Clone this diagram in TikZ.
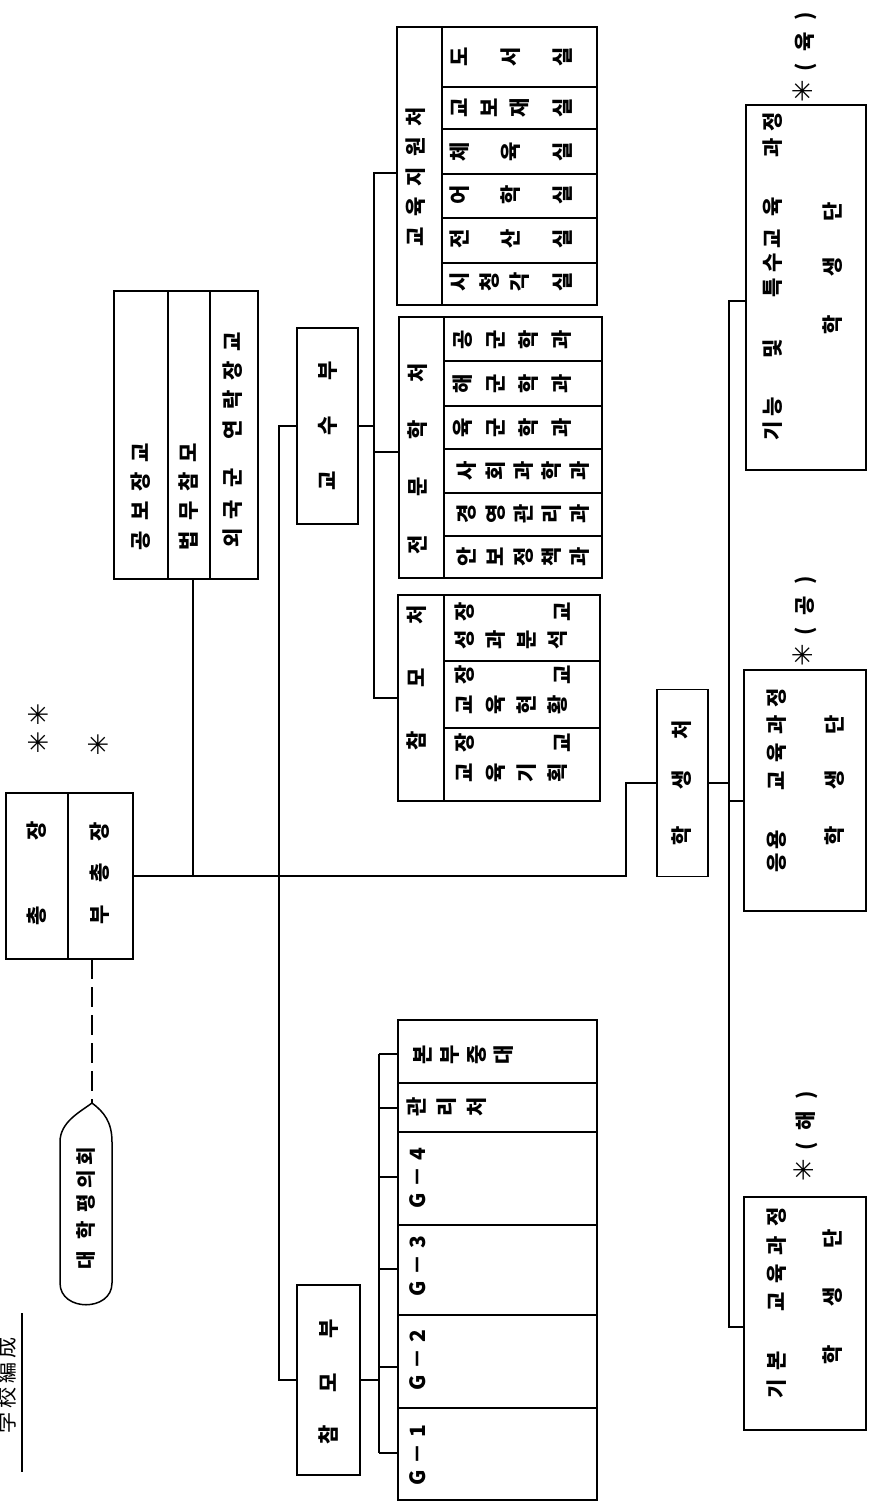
\documentclass[tikz,border=0pt]{standalone}
\usepackage{fontspec}
\usepackage{graphicx}
\newfontfamily\kr{Noto Sans CJK KR}
\newfontfamily\jpf{Noto Sans CJK JP}
\newfontfamily\dv{DejaVu Sans}
\newcommand\hs[1]{\hspace{#1pt}}
\newcommand\st{\rule[-0.12em]{0pt}{1em}}
\newcommand\G[1]{\rotatebox{90}{\st#1}}
\newcommand\AST{{\dv\bfseries\fontsize{27}{27}\selectfont ✳}}
\begin{document}
\begin{tikzpicture}[x=1pt,y=-1pt,
  box/.style={draw, rectangle, line width=1.5pt, inner sep=0pt, outer sep=0pt},
  wire/.style={line width=1.3pt},
  cell/.style={line width=1.3pt},
  vt/.style={rotate=90, inner sep=0pt, font=\kr\bfseries\fontsize{21}{21}\selectfont},
  ht/.style={inner sep=0pt, font=\kr\bfseries\fontsize{21}{21}\selectfont},
  astk/.style={inner sep=0pt, font=\dv\bfseries\fontsize{27}{27}\selectfont}]
\useasboundingbox (0,0) rectangle (868,1506);

% ---------- boxes ----------
\node[box, minimum width=127pt, minimum height=166pt] (chong) at (69.5,876) {};
\node[box, minimum width=144pt, minimum height=288pt] (bojik) at (186,435) {};
\node[box, minimum width=61pt, minimum height=196pt] (gsb) at (327.5,426) {};
\node[box, minimum width=63pt, minimum height=190pt] (cmb) at (328.5,1380) {};
\node[box, minimum width=200pt, minimum height=278pt] (gjw) at (497,166) {};
\node[box, minimum width=203pt, minimum height=261pt] (jmh) at (500.5,447.5) {};
\node[box, minimum width=202pt, minimum height=206pt] (cmc) at (499,698) {};
\node[box, minimum width=199pt, minimum height=480pt] (gblk) at (497.5,1260) {};
\node[box, minimum width=51pt, minimum height=187pt] (hsc) at (682.5,783) {};
\node[box, minimum width=120pt, minimum height=365pt] (kn) at (806,287.5) {};
\node[box, minimum width=122pt, minimum height=241pt] (uy) at (805,790.5) {};
\node[box, minimum width=122pt, minimum height=233pt] (gb) at (805,1313.5) {};

% ---------- inner dividers ----------
\draw[cell] (68,793) -- (68,959);
\draw[cell] (168,291) -- (168,579);
\draw[cell] (210,291) -- (210,579);
\draw[cell] (442,27) -- (442,305);
\foreach \yy in {87,129,174,218,263} \draw[cell] (442,\yy) -- (597,\yy);
\draw[cell] (444,317) -- (444,578);
\foreach \yy in {361,406,449,493,536} \draw[cell] (444,\yy) -- (602,\yy);
\draw[cell] (444,595) -- (444,801);
\foreach \yy in {661,728} \draw[cell] (444,\yy) -- (600,\yy);
\foreach \yy in {1083,1132,1225,1315,1408} \draw[cell] (398,\yy) -- (597,\yy);

% ---------- senate shape ----------
\coordinate (senTop) at (92,1103);
\draw[line width=1.5pt] (senTop) .. controls (104,1112) and (112,1122) .. (112,1142) -- (112,1283)
  .. controls (112,1312) and (60,1312) .. (60,1283) -- (60,1142)
  .. controls (60,1122) and (80,1112) .. (senTop);
\draw[wire, dash pattern=on 20pt off 8pt] (chong.south -| senTop) -- (senTop);

% ---------- connectors ----------
\coordinate (p1) at (626,876);
\coordinate (j1) at (193,876);
\coordinate (j2) at (279,876);
\draw[wire] (chong.east) -- (p1) |- (hsc.west);
\draw[wire] (bojik.south -| j1) -- (j1);
\draw[wire] (gsb.west) -| (j2) |- (cmb.west);

\coordinate (k) at (374,426);
\coordinate (r1) at (374,173);
\coordinate (r2) at (374,452);
\draw[wire] (gsb.east) -- (k);
\draw[wire] (r1 -| gjw.west) -- (r1) |- (cmc.west);
\draw[wire] (r2) -- (r2 -| jmh.west);

\coordinate (bx) at (379,1380);
\draw[wire] (cmb.east) -- (bx);
\coordinate (g1) at (379,1054);
\coordinate (g2) at (379,1108);
\coordinate (g3) at (379,1177);
\coordinate (g4) at (379,1269);
\coordinate (g5) at (379,1367);
\coordinate (g6) at (379,1453);
\draw[wire] (g1) -- (g6);
\foreach \g in {g1,g2,g3,g4,g5,g6} \draw[wire] (\g) -- (\g -| gblk.west);

\coordinate (q1) at (729,301);
\coordinate (q2) at (729,801);
\coordinate (q3) at (729,1327);
\draw[wire] (hsc.east) -- (hsc.east -| q1);
\draw[wire] (q1 -| kn.west) -- (q1) -- (q3) -- (q3 -| gb.west);
\draw[wire] (q2) -- (q2 -| uy.west);

% ---------- title ----------
\node[vt, font=\jpf\fontsize{21}{21}\selectfont] (title) at (7,1385) {\st 学\hs{4}校\hs{4}編\hs{4}成};
\draw[wire] (22,1313) -- (22,1472);

% ---------- texts ----------
\node[vt] (tc1) at (37,873.5) {\st 총\hs{66}장};
\node[vt] (tc2) at (100,873.5) {\st 부\hs{23}총\hs{22}장};
\node[astk] (as1) at (38,715) {✳};
\node[astk] (as2) at (38,743) {✳};
\node[astk] (as3) at (98,745) {✳};

\node[vt] (tb1) at (141,496.5) {\st 공\hs{10}보\hs{10}장\hs{10}교};
\node[vt] (tb2) at (189,496.5) {\st 법\hs{10}무\hs{10}참\hs{10}모};
\node[vt] (tb3) at (233,440) {\st 외\hs{9}국\hs{12}군\hs{29}연\hs{11}락\hs{10}장\hs{9}교};

\node[vt, font=\kr\bfseries\fontsize{20}{20}\selectfont] (tsen) at (86,1208) {\st 대\hs{11}학\hs{9}평\hs{5}의\hs{5}회};

\node[vt] (tcmb) at (329,1382) {\st 참\hs{33}모\hs{35}부};
\node[vt] (tgsb) at (327.5,426) {\st 교\hs{36}수\hs{36}부};

\node[vt] (tgjw) at (416,176.5) {\st 교\hs{10.75}육\hs{10.75}지\hs{10.75}원\hs{10.75}처};
\node[ht] (w1) at (511.5,57) {\G{도}\hs{30}\G{서}\hs{31}\G{실}};
\node[ht] (w2) at (511.5,108) {\G{교}\hs{9}\G{보}\hs{9}\G{재}\hs{22}\G{실}};
\node[ht] (w3) at (511.5,152) {\G{체}\hs{30}\G{육}\hs{31}\G{실}};
\node[ht] (w4) at (511.5,195) {\G{어}\hs{30}\G{학}\hs{31}\G{실}};
\node[ht] (w5) at (511.5,239) {\G{전}\hs{30}\G{산}\hs{31}\G{실}};
\node[ht] (w6) at (511.5,282) {\G{시}\hs{9}\G{청}\hs{9}\G{각}\hs{22}\G{실}};

\node[vt] (tjmh) at (418,458.5) {\st 전\hs{38}문\hs{38}학\hs{38}처};
\node[ht] (m1) at (512.5,340) {\G{공}\hs{12}\G{군}\hs{12}\G{학}\hs{12}\G{과}};
\node[ht] (m2) at (512.5,383.5) {\G{해}\hs{12}\G{군}\hs{12}\G{학}\hs{12}\G{과}};
\node[ht] (m3) at (512.5,427.5) {\G{육}\hs{12}\G{군}\hs{12}\G{학}\hs{12}\G{과}};
\node[ht] (m4) at (523.5,471) {\G{사}\hs{7.25}\G{회}\hs{7.25}\G{과}\hs{7.25}\G{학}\hs{7.25}\G{과}};
\node[ht] (m5) at (523.5,514) {\G{경}\hs{7.25}\G{영}\hs{7.25}\G{관}\hs{7.25}\G{리}\hs{7.25}\G{과}};
\node[ht] (m6) at (523.5,557) {\G{안}\hs{7.25}\G{보}\hs{7.25}\G{정}\hs{7.25}\G{책}\hs{7.25}\G{과}};

\node[vt] (tcmc) at (417,678) {\st 참\hs{44}모\hs{44}처};
\node[ht] (c1a) at (514,612) {\G{장}\hs{77}\G{교}};
\node[ht] (c1b) at (511.5,640) {\G{성}\hs{10}\G{과}\hs{10}\G{분}\hs{10}\G{석}};
\node[ht] (c2a) at (514,675) {\G{장}\hs{77}\G{교}};
\node[ht] (c2b) at (511.5,705) {\G{교}\hs{10}\G{육}\hs{10}\G{현}\hs{10}\G{황}};
\node[ht] (c3a) at (514,743) {\G{장}\hs{77}\G{교}};
\node[ht] (c3b) at (511.5,773) {\G{교}\hs{10}\G{육}\hs{10}\G{기}\hs{10}\G{획}};

\node[ht] (gr1) at (463.5,1055) {\G{본}\hs{6}\G{부}\hs{6}\G{중}\hs{6}\G{대}};
\node[ht] (gr2) at (447,1107) {\G{관}\hs{9}\G{리}\hs{9}\G{처}};
\node[vt] (gr3) at (418,1178) {\st G\hs{6}－\hs{6}4};
\node[vt] (gr4) at (418,1266) {\st G\hs{6}－\hs{6}3};
\node[vt] (gr5) at (418,1360) {\st G\hs{6}－\hs{6}2};
\node[vt] (gr6) at (418,1455) {\st G\hs{6}－\hs{6}1};

\node[vt] (thsc) at (682,783) {\st 학\hs{37}생\hs{31}처};

\node[vt] (kn1) at (773,276.5) {\st 기\hs{5}능\hs{39}및\hs{41}특\hs{6}수\hs{5}교\hs{13}육\hs{39}과\hs{7}정};
\node[vt] (kn2) at (833,268.5) {\st 학\hs{39}생\hs{36}단};
\node[vt] (uy1) at (777,780.5) {\st 응\hs{4}용\hs{39}교\hs{9}육\hs{9}과\hs{7}정};
\node[vt] (uy2) at (835,780.5) {\st 학\hs{37}생\hs{36}단};
\node[vt] (gb1) at (777,1303) {\st 기\hs{9}본\hs{39}교\hs{9}육\hs{9}과\hs{9}정};
\node[vt] (gb2) at (833,1297) {\st 학\hs{39}생\hs{39}단};

\node[vt] (lb1) at (805,57) {\st\AST\hs{8}(\hs{12}육\hs{12})};
\node[vt] (lb2) at (805,621) {\st\AST\hs{8}(\hs{12}공\hs{12})};
\node[vt] (lb3) at (806,1136) {\st\AST\hs{8}(\hs{12}해\hs{12})};
\end{tikzpicture}
\end{document}
